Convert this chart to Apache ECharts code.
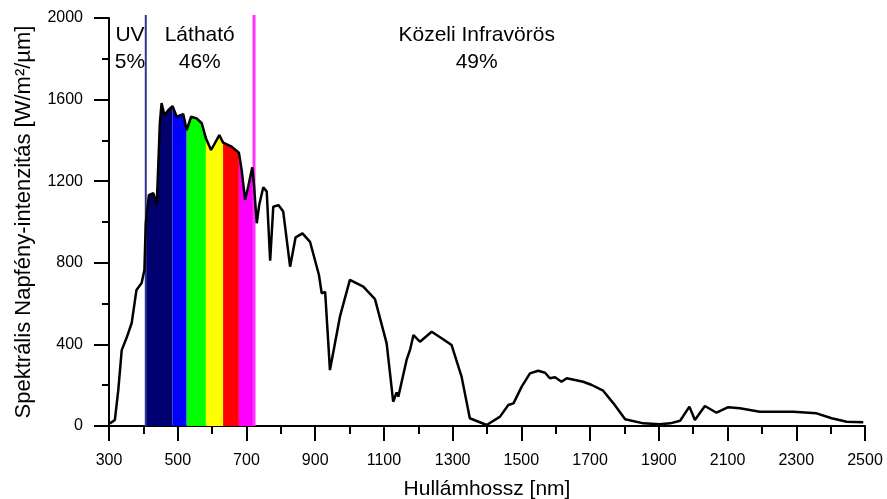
<!DOCTYPE html>
<html>
<head>
<meta charset="utf-8">
<script src="https://cdn.jsdelivr.net/npm/echarts@6/dist/echarts.min.js"></script>
<style>
  html, body { margin: 0; padding: 0; background: #fff; }
  #chart { width: 887px; height: 499px; }
</style>
</head>
<body>
<div id="chart"></div>
<script>
  // hullámhossz (nm) és intenzitás (W/m2/um)
  const wavelength = [303, 317, 327, 337, 351, 366, 380, 395, 403, 407, 416, 429, 439, 448, 453, 461, 473, 485,
    497, 516, 526, 539, 555, 570, 582, 597, 608, 621, 632, 657, 678, 686, 696, 705, 717, 722, 725, 730, 737,
    749, 759, 769, 778, 793, 807, 827, 843, 863, 885, 911, 919, 929, 943, 948, 972, 1001, 1040, 1074, 1108,
    1127, 1137, 1142, 1166, 1176, 1186, 1205, 1239, 1268, 1297, 1326, 1350, 1399, 1438, 1462, 1477, 1501,
    1525, 1549, 1569, 1583, 1598, 1617, 1632, 1680, 1705, 1738, 1768, 1802, 1855, 1903, 1933, 1962, 1989,
    2005, 2034, 2068, 2102, 2136, 2194, 2291, 2359, 2403, 2447, 2495];
  const irradiance = [13, 29, 176, 372, 431, 505, 667, 701, 765, 995, 1132, 1142, 1083, 1485, 1583, 1524, 1549, 1568,
    1516, 1529, 1451, 1516, 1508, 1484, 1410, 1353, 1386, 1426, 1389, 1369, 1340, 1255, 1108, 1173, 1268, 1180, 1108, 994, 1083,
    1170, 1149, 810, 1075, 1083, 1051, 781, 925, 944, 903, 740, 650, 658, 274, 283, 536, 716, 683, 622, 405,
    119, 164, 144, 324, 373, 446, 413, 462, 430, 397, 242, 38, 5, 46, 103, 111, 193,
    258, 271, 261, 234, 239, 217, 234, 217, 201, 173, 111, 33, 13, 8, 13, 26, 95,
    29, 98, 65, 92, 87, 70, 70, 62, 38, 21, 18];

  // látható sávok határai és színei
  const bandEdges = [407, 485, 526, 582, 632, 678, 722];
  const bandColors = ['#000070', '#0000ff', '#00ff00', '#ffff00', '#ff0000', '#ff00ff'];

  // tartomány-határvonalak
  const dividerX = [407, 722];
  const dividerColors = ['#34348f', '#ff33ff'];

  const regionLabels = ['UV\n5%', 'Látható\n46%', 'Közeli Infravörös\n49%'];
  const regionX = [361, 564, 1370];
  const regionY = 1848;

  const curve = wavelength.map((w, i) => [w, irradiance[i]]);

  let series = [];

  for (let i = 0; i < bandColors.length; i++) {
    series.push({
      type: 'line',
      data: curve.filter(p => p[0] >= bandEdges[i] && p[0] <= bandEdges[i + 1]),
      symbol: 'none',
      silent: true,
      lineStyle: { width: 0 },
      areaStyle: { color: bandColors[i], opacity: 1 },
      z: 2
    });
  }

  dividerX.forEach((x, i) => {
    series.push({
      type: 'line',
      data: [[x, 0], [x, 2015]],
      symbol: 'none',
      silent: true,
      clip: false,
      lineStyle: { color: dividerColors[i], width: i == 0 ? 2 : 3 },
      z: 3
    });
  });

  series.push({
    type: 'line',
    data: curve,
    symbol: 'none',
    lineStyle: { color: '#000', width: 2.5 },
    z: 5
  });

  series.push({
    type: 'scatter',
    data: regionX.map((x, i) => ({ value: [x, regionY], label: { formatter: regionLabels[i] } })),
    symbolSize: 1,
    itemStyle: { color: 'rgba(0,0,0,0)', opacity: 1 },
    silent: true,
    label: {
      show: true,
      position: 'inside',
      color: '#000',
      opacity: 1,
      textBorderWidth: 0,
      fontSize: 21,
      lineHeight: 27,
      fontFamily: 'Liberation Sans, Arial, sans-serif'
    },
    z: 6
  });

  let myChart = echarts.init(document.getElementById('chart'));

  myChart.setOption({
    animation: false,
    textStyle: { fontFamily: 'Liberation Sans, Arial, sans-serif' },
    grid: { left: 109, right: 22, top: 18, bottom: 73, containLabel: false, outerBoundsMode: 'none' },
    xAxis: {
      type: 'value',
      min: 300,
      max: 2500,
      interval: 200,
      name: 'Hullámhossz [nm]',
      nameLocation: 'middle',
      nameGap: 53,
      nameTextStyle: { fontSize: 21, color: '#000' },
      axisLine: { lineStyle: { color: '#000', width: 2 } },
      axisTick: { inside: false, length: 15, lineStyle: { color: '#000', width: 2 } },
      minorTick: { show: true, splitNumber: 2, length: 8, lineStyle: { color: '#000', width: 2 } },
      axisLabel: { fontSize: 16, color: '#000', margin: 27, formatter: v => String(v) },
      splitLine: { show: false }
    },
    yAxis: {
      type: 'value',
      min: 0,
      max: 2000,
      interval: 400,
      name: 'Spektrális Napfény-intenzitás [W/m²/µm]',
      nameLocation: 'middle',
      nameGap: 74,
      nameTextStyle: { fontSize: 22, color: '#000' },
      axisLine: { show: true, lineStyle: { color: '#000', width: 2 } },
      axisTick: { show: true, length: 15, lineStyle: { color: '#000', width: 2 } },
      minorTick: { show: true, splitNumber: 2, length: 7, lineStyle: { color: '#000', width: 2 } },
      axisLabel: { fontSize: 16, color: '#000', margin: 26, formatter: v => String(v) },
      splitLine: { show: false }
    },
    series: series
  });
</script>
</body>
</html>
